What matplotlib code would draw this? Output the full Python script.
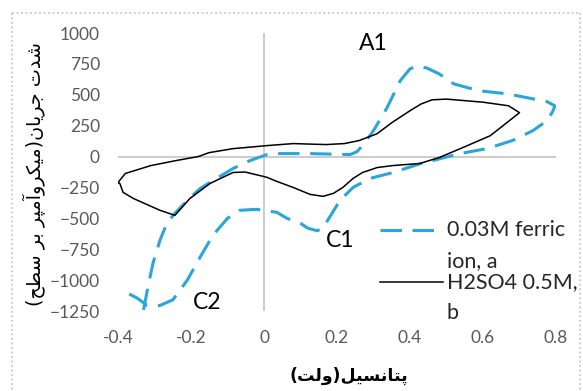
#!/usr/bin/env python3
"""
Cyclic voltammogram: ferric ion vs H2SO4 blank
"""

import matplotlib
matplotlib.use('Agg')
import matplotlib.pyplot as plt
from matplotlib.lines import Line2D

# ---- data (potential in V, current in uA) ----
ferric_v = [-0.33, -0.318, -0.304, -0.285, -0.266, -0.244, -0.21, -0.175, -0.13,
            -0.085, -0.038, 0.008, 0.035, 0.126, 0.236, 0.255, 0.27, 0.30, 0.337,
            0.373, 0.40, 0.42, 0.446, 0.48, 0.52, 0.59, 0.666, 0.737, 0.775,
            0.797, 0.79, 0.775, 0.737, 0.68, 0.61, 0.537, 0.463, 0.43, 0.354,
            0.29, 0.244, 0.208, 0.18, 0.16, 0.145, 0.12, 0.10, 0.063, 0.035,
            -0.02, -0.066, -0.10, -0.14, -0.175, -0.21, -0.25, -0.285, -0.32,
            -0.348, -0.38]
ferric_i = [-1241, -1056, -862, -677, -540, -459, -355, -258, -177,
            -97, -32, 16, 24, 24, 16, 40, 89, 210, 395,
            613, 710, 733, 717, 669, 588, 532, 508, 467, 445,
            410, 360, 290, 210, 129, 64, 24, -32, -56, -129,
            -177, -250, -355, -490, -585, -600, -580, -540, -500, -451,
            -427, -435, -500, -637, -814, -1000, -1160, -1205, -1205,
            -1145, -1096]

acid_v = [-0.40, -0.38, -0.31, -0.24, -0.18, -0.15, -0.085, 0.01, 0.08, 0.17,
          0.22, 0.26, 0.31, 0.35, 0.40, 0.43, 0.46, 0.50, 0.54, 0.60, 0.67,
          0.70, 0.62, 0.545, 0.48, 0.427, 0.353, 0.31, 0.27, 0.244, 0.216,
          0.19, 0.162, 0.126, 0.08, 0.036, 0.007, -0.052, -0.085, -0.148,
          -0.203, -0.244, -0.285, -0.358, -0.386, -0.395, -0.40]
acid_i = [-210, -137, -73, -32, 0, 32, 64, 89, 105, 97,
          105, 129, 185, 274, 371, 425, 459, 465, 455, 440, 411,
          355, 169, 73, -8, -56, -73, -89, -129, -177, -250,
          -298, -322, -306, -250, -202, -167, -125, -129, -218,
          -339, -476, -435, -339, -290, -218, -210]

x_ticks = [-0.4, -0.2, 0, 0.2, 0.4, 0.6, 0.8]
x_tick_labels = ['-0.4', '-0.2', '0', '0.2', '0.4', '0.6', '0.8']
y_ticks = [-1250, -1000, -750, -500, -250, 0, 250, 500, 750, 1000]

peak_labels = ['A1', 'C1', 'C2']
peak_pos = [(0.30, 919), (0.208, -677), (-0.156, -1185)]

legend_labels = [('0.03M ferric', 'ion, a'), ('H2SO4 0.5M,', 'b')]
x_title = 'پتانسیل(ولت)'
y_title = 'شدت جریان(میکروآمپر بر سطح)'

# ---- simple Persian shaping, since matplotlib has no RTL / joining ----
FORMS = {
    'ا': ('\uFE8D', '\uFE8E', None, None),
    'آ': ('\uFE81', '\uFE82', None, None),
    'ب': ('\uFE8F', '\uFE90', '\uFE91', '\uFE92'),
    'پ': ('\uFB56', '\uFB57', '\uFB58', '\uFB59'),
    'ت': ('\uFE95', '\uFE96', '\uFE97', '\uFE98'),
    'ج': ('\uFE9D', '\uFE9E', '\uFE9F', '\uFEA0'),
    'ح': ('\uFEA1', '\uFEA2', '\uFEA3', '\uFEA4'),
    'د': ('\uFEA9', '\uFEAA', None, None),
    'ر': ('\uFEAD', '\uFEAE', None, None),
    'س': ('\uFEB1', '\uFEB2', '\uFEB3', '\uFEB4'),
    'ش': ('\uFEB5', '\uFEB6', '\uFEB7', '\uFEB8'),
    'ط': ('\uFEC1', '\uFEC2', '\uFEC3', '\uFEC4'),
    'ک': ('\uFB8E', '\uFB8F', '\uFB90', '\uFB91'),
    'ل': ('\uFEDD', '\uFEDE', '\uFEDF', '\uFEE0'),
    'م': ('\uFEE1', '\uFEE2', '\uFEE3', '\uFEE4'),
    'ن': ('\uFEE5', '\uFEE6', '\uFEE7', '\uFEE8'),
    'و': ('\uFEED', '\uFEEE', None, None),
    'ی': ('\uFBFC', '\uFBFD', '\uFBFE', '\uFBFF'),
}


def shape_rtl(text):
    """Pick contextual forms, then reverse for left-to-right drawing"""
    out = []
    for i, c in enumerate(text):
        if c not in FORMS:
            out.append(c)
            continue
        prev = text[i - 1] if i > 0 else ''
        nxt = text[i + 1] if i + 1 < len(text) else ''
        join_prev = prev in FORMS and FORMS[prev][2] is not None
        join_next = FORMS[c][2] is not None and nxt in FORMS
        if join_prev and join_next:
            out.append(FORMS[c][3])
        elif join_prev:
            out.append(FORMS[c][1])
        elif join_next:
            out.append(FORMS[c][2])
        else:
            out.append(FORMS[c][0])
    swap = {'(': ')', ')': '('}
    return ''.join(swap.get(c, c) for c in reversed(out))


def main():
    plt.rcParams['font.family'] = ['Lato', 'DejaVu Sans']

    fig = plt.figure(figsize=(5.83, 3.91), dpi=100)
    ax = fig.add_axes([0.2024, 0.2046, 0.7513, 0.711])

    blue = '#2ba6da'
    ax.axhline(0, color='#bfbfbf', lw=1.1, zorder=1)
    ax.axvline(0, color='#bfbfbf', lw=1.1, zorder=1)

    ax.plot(ferric_v, ferric_i, color=blue, lw=2.2, dashes=(7, 3.5),
            solid_joinstyle='round', zorder=3)
    ax.plot(acid_v, acid_i, color='black', lw=1.1, solid_joinstyle='round', zorder=4)

    ax.set_xlim(-0.4, 0.8)
    ax.set_ylim(-1250, 1000)
    ax.set_xticks(x_ticks)
    ax.set_xticklabels(x_tick_labels)
    ax.set_yticks(y_ticks)
    for s in ax.spines.values():
        s.set_visible(False)
    ax.tick_params(axis='both', length=0, labelsize=12.5, labelcolor='#595959')
    ax.tick_params(axis='x', pad=14)
    ax.tick_params(axis='y', pad=13)

    for lab, (px, py) in zip(peak_labels, peak_pos):
        ax.text(px, py, lab, fontsize=16.5, color='black',
                ha='center', va='center', zorder=5)

    # legend drawn by hand so the key lines sit on the first text line
    key_y = [0.291, 0.104]
    styles = [dict(color=blue, lw=2.2, dashes=(7, 3.5)), dict(color='black', lw=1.1)]
    for (l1, l2), ky, st in zip(legend_labels, key_y, styles):
        ln = Line2D([0.598, 0.742], [ky, ky], transform=ax.transAxes,
                    clip_on=False, zorder=5, **st)
        ax.add_line(ln)
        ax.text(0.751, ky, l1, transform=ax.transAxes, fontsize=15.5,
                color='#262626', ha='left', va='center')
        ax.text(0.751, ky - 0.112, l2, transform=ax.transAxes, fontsize=15.5,
                color='#262626', ha='left', va='center')

    fig.text(349 / 583, 1 - 376 / 391, shape_rtl(x_title), family='DejaVu Sans',
             fontsize=12.5, fontweight='bold', color='black', ha='center', va='center')
    fig.text(34 / 583, 1 - 174 / 391, shape_rtl(y_title), family='DejaVu Sans',
             fontsize=13.8, color='black', rotation=90, ha='center', va='center')

    # dotted chart-area border
    border = dict(color='#c8c8c8', lw=1.3, linestyle=(0, (1, 1.5)),
                  transform=fig.transFigure)
    fig.add_artist(Line2D([12 / 583, 580 / 583], [1 - 13 / 391, 1 - 13 / 391], **border))
    fig.add_artist(Line2D([12 / 583, 12 / 583], [1 - 13 / 391, 0], **border))
    fig.add_artist(Line2D([580 / 583, 580 / 583], [1 - 13 / 391, 0], **border))

    plt.savefig('out.png', dpi=100)


if __name__ == '__main__':
    main()
